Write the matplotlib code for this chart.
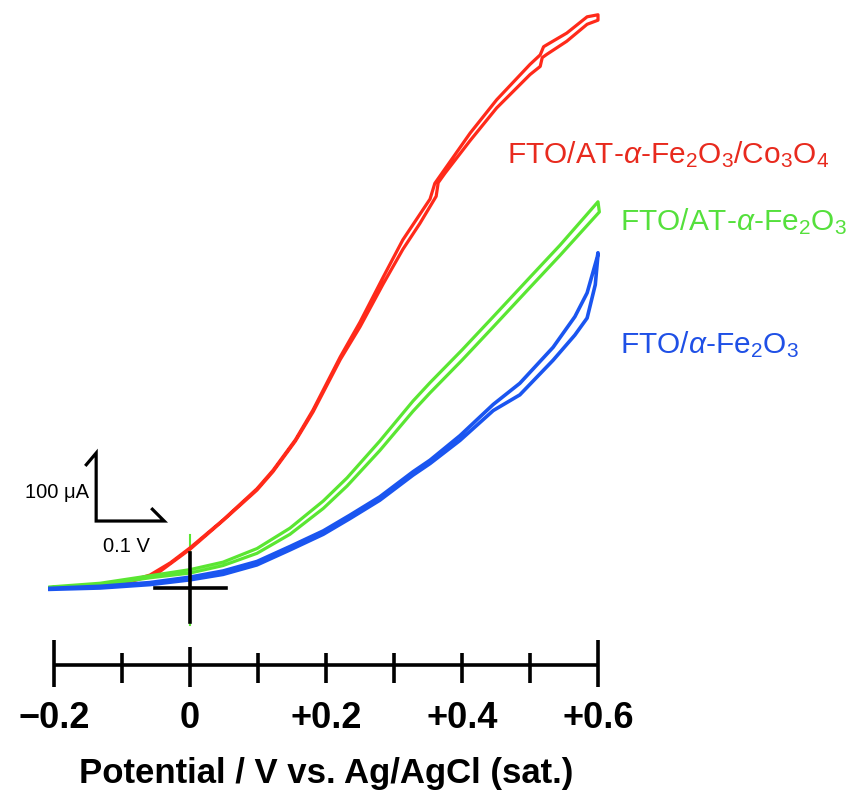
import matplotlib
matplotlib.use("Agg")
import matplotlib.pyplot as plt

plt.rcParams['font.family'] = ['Liberation Sans', 'DejaVu Sans']
plt.rcParams['mathtext.fontset'] = 'custom'
plt.rcParams['mathtext.rm'] = 'Liberation Sans'
plt.rcParams['mathtext.it'] = 'Liberation Sans:italic'
plt.rcParams['mathtext.bf'] = 'Liberation Sans:bold'

# ---- data: potential (V vs Ag/AgCl) and current (uA) ----
red_fwd_v = [-0.203, -0.147, -0.103, -0.059, -0.029, 0.0, 0.0485, 0.0985, 0.122, 0.155, 0.181, 0.221,
             0.25, 0.284, 0.313, 0.353, 0.36, 0.412, 0.451, 0.5, 0.515, 0.52, 0.525, 0.554, 0.584, 0.6]
red_fwd_i = [0, 1.5, 6, 19, 37, 59, 100, 146, 173, 218, 262, 340,
             391, 457, 512, 572, 595, 669, 718, 770, 784, 796, 799, 816, 840, 843]
red_rev_v = [0.6, 0.584, 0.554, 0.525, 0.518, 0.515, 0.5, 0.451, 0.412, 0.375, 0.365, 0.362, 0.338,
             0.313, 0.284, 0.25, 0.221, 0.181, 0.155, 0.122, 0.0985, 0.0485, 0.0, -0.05, -0.1, -0.2]
red_rev_i = [835, 829, 804, 785, 780, 767, 755, 706, 658, 610, 596, 576, 536,
             498, 447, 384, 336, 259, 216, 171, 144, 99, 57, 20, 6, 0]

green_fwd_v = [-0.206, -0.132, -0.059, 0.0, 0.0485, 0.0985, 0.147, 0.196, 0.231, 0.279, 0.328,
               0.353, 0.4, 0.446, 0.5, 0.544, 0.6]
green_fwd_i = [1.5, 7, 18, 27, 38, 58, 88, 128, 162, 216, 275, 302, 350, 399, 457, 504, 568]
green_rev_v = [0.602, 0.544, 0.5, 0.446, 0.4, 0.353, 0.328, 0.279, 0.231, 0.196, 0.147, 0.0985,
               0.0485, 0.0, -0.059, -0.132, -0.206]
green_rev_i = [553, 489, 442, 384, 335, 287, 260, 202, 150, 117, 79, 51, 33, 22, 15, 4.5, 0.5]

blue_fwd_v = [-0.206, -0.132, -0.059, 0.0, 0.0485, 0.0985, 0.147, 0.196, 0.235, 0.279, 0.328, 0.353,
              0.397, 0.446, 0.485, 0.534, 0.566, 0.584, 0.596, 0.6]
blue_fwd_i = [-2, 0, 5, 12, 20, 34, 56, 79, 102, 129, 166, 183,
              217, 261, 284, 335, 372, 397, 446, 490]
blue_rev_v = [0.6, 0.599, 0.584, 0.566, 0.534, 0.485, 0.446, 0.397, 0.353, 0.328, 0.279, 0.235,
              0.196, 0.147, 0.0985, 0.0485, 0.0, -0.059, -0.132, -0.206]
blue_rev_i = [493, 487, 434, 399, 354, 301, 270, 224, 188, 171, 134, 107,
              84, 61, 39, 25, 16, 8, 2.5, -0.5]

tick_values = [-0.2, -0.1, 0.0, 0.1, 0.2, 0.3, 0.4, 0.5, 0.6]
tick_labels = {-0.2: '\u22120.2', 0.0: '0', 0.2: '+0.2', 0.4: '+0.4', 0.6: '+0.6'}

series_labels = [r'FTO/AT-$\mathit{\alpha}$-Fe$_2$O$_3$/Co$_3$O$_4$',
                 r'FTO/AT-$\mathit{\alpha}$-Fe$_2$O$_3$',
                 r'FTO/$\mathit{\alpha}$-Fe$_2$O$_3$']

RED = '#ff2a1a'
GREEN = '#5ae632'
BLUE = '#1a55f0'

fig = plt.figure(figsize=(8.53, 7.94), dpi=100)
ax = fig.add_axes([0, 0, 1, 1])
ax.set_xlim(-190 / 680, (853 - 190) / 680)
ax.set_ylim((588 - 794) / 0.68, 588 / 0.68)
ax.axis('off')

# green spike at origin
ax.plot([0, 0], [-55, 78], color=GREEN, lw=1.5, zorder=1)

for (fv, fi, rv, ri, c, lw) in [(red_fwd_v, red_fwd_i, red_rev_v, red_rev_i, RED, 2.3),
                                (green_fwd_v, green_fwd_i, green_rev_v, green_rev_i, GREEN, 2.3),
                                (blue_fwd_v, blue_fwd_i, blue_rev_v, blue_rev_i, BLUE, 2.6)]:
    ax.plot(fv + rv, fi + ri, color=c, lw=lw, solid_joinstyle='round', zorder=2)

# crosshair at origin
ax.plot([0, 0], [-50, 51], color='black', lw=2.6, zorder=3)
ax.plot([-0.051, 0.053], [0, 0], color='black', lw=2.6, zorder=3)

# scale bar (0.1 V / 100 uA)
v0, i0 = -0.138, 98.5
ax.plot([v0 - 0.016, v0, v0, v0 + 0.1, v0 + 0.1 - 0.019],
        [i0 + 100 - 19, i0 + 100, i0, i0, i0 + 19],
        color='black', lw=2.3, solid_joinstyle='miter', solid_capstyle='butt', zorder=3)
ax.text(v0 - 0.011, i0 + 50 - 8, '100 \u03bcA', ha='right', va='center', fontsize=14.5)
ax.text(v0 + 0.05 - 0.006, i0 - 37, '0.1 V', ha='center', va='center', fontsize=14.5)

# x axis
axis_i = -113
ax.plot([tick_values[0], tick_values[-1]], [axis_i, axis_i], color='black', lw=2.6,
        solid_capstyle='butt', zorder=3)
for t in tick_values:
    if t in (-0.2, 0.6):
        lo, hi = (588 - 687) / 0.68, (588 - 640) / 0.68
    elif t == 0.0:
        lo, hi = (588 - 687) / 0.68, (588 - 647) / 0.68
    else:
        lo, hi = (588 - 683) / 0.68, (588 - 653) / 0.68
    ax.plot([t, t], [lo, hi], color='black', lw=2.6, solid_capstyle='butt', zorder=3)
for t, s in tick_labels.items():
    ax.text(t, (588 - 719) / 0.68, s, ha='center', va='center', fontsize=26, fontweight='bold')
ax.text(0.2, (588 - 773) / 0.68, 'Potential / V vs. Ag/AgCl (sat.)', ha='center', va='center',
        fontsize=25, fontweight='bold')

# series labels
ax.text((507 - 190) / 680, (588 - 155) / 0.68, series_labels[0], color='#e82a1e', fontsize=21.5,
        ha='left', va='center')
ax.text((620 - 190) / 680, (588 - 222) / 0.68, series_labels[1], color='#55e03c', fontsize=21.5,
        ha='left', va='center')
ax.text((620 - 190) / 680, (588 - 345) / 0.68, series_labels[2], color='#1f50e6', fontsize=21.5,
        ha='left', va='center')

fig.savefig('out.png', dpi=100)
